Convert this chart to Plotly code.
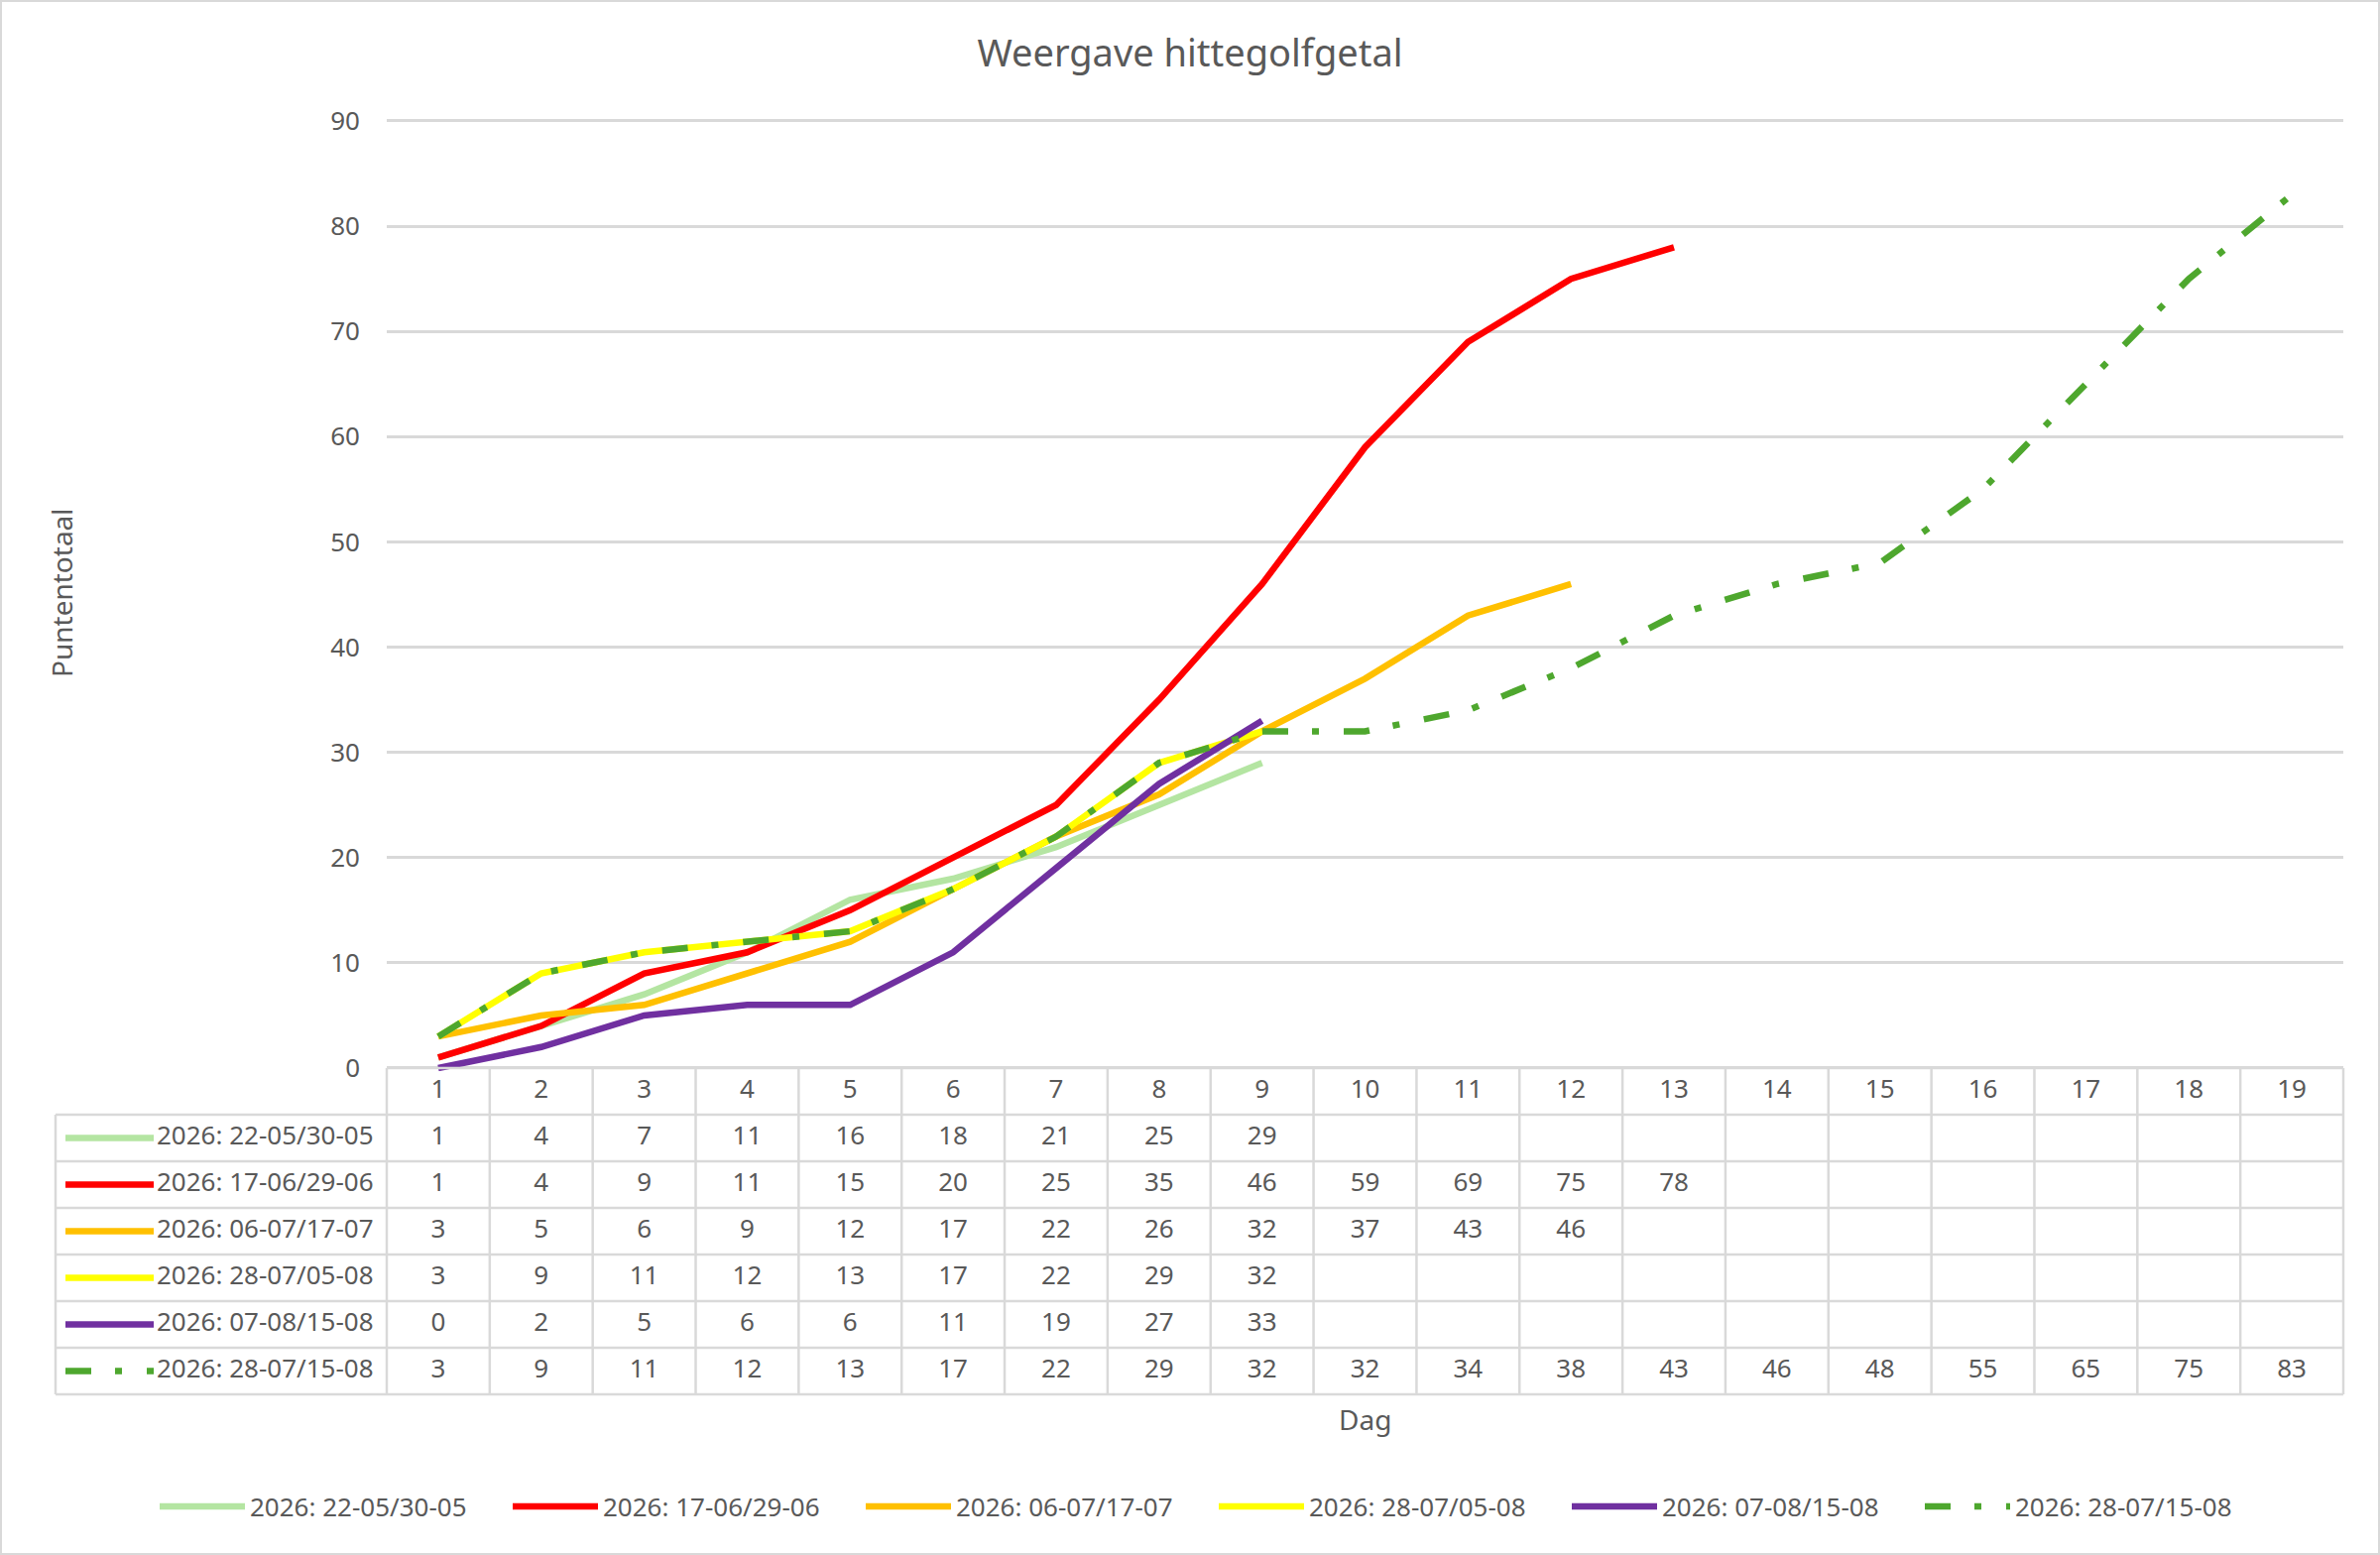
import plotly.graph_objects as go

days = list(range(1, 20))
labels = [
    "2026: 22-05/30-05",
    "2026: 17-06/29-06",
    "2026: 06-07/17-07",
    "2026: 28-07/05-08",
    "2026: 07-08/15-08",
    "2026: 28-07/15-08",
]
s_2205_3005 = [1, 4, 7, 11, 16, 18, 21, 25, 29]
s_1706_2906 = [1, 4, 9, 11, 15, 20, 25, 35, 46, 59, 69, 75, 78]
s_0607_1707 = [3, 5, 6, 9, 12, 17, 22, 26, 32, 37, 43, 46]
s_2807_0508 = [3, 9, 11, 12, 13, 17, 22, 29, 32]
s_0708_1508 = [0, 2, 5, 6, 6, 11, 19, 27, 33]
s_2807_1508 = [3, 9, 11, 12, 13, 17, 22, 29, 32, 32, 34, 38, 43, 46, 48, 55, 65, 75, 83]
series = [s_2205_3005, s_1706_2906, s_0607_1707, s_2807_0508, s_0708_1508, s_2807_1508]

colors = ["#B4E5A2", "#FF0000", "#FFC000", "#FFFF00", "#7030A0", "#4EA72E"]
dashes = ["solid", "solid", "solid", "solid", "solid", "26px,24px,7px,25px"]

FONT = "Noto Sans"
GREY = "#595959"
GRID = "#D9D9D9"
FS = 26

# layout in pixels (Excel chart area)
W, H = 2400, 1568
plot_l, plot_r, plot_t, plot_b = 390, 2363, 122, 1077
tab_l, tab_b = 56, 1406
pad = 4
col_w = (plot_r - plot_l) / len(days)
row_h = (tab_b - plot_b) / (len(series) + 1)
y_max = 90
y_pad = 0.3  # small overshoot so the 0 and 90 gridlines are drawn
y_px = (plot_b - plot_t) / y_max


def px_x(px):
    return 0.5 + (px - plot_l) / col_w


fig = go.Figure()

# the lines
for name, vals, c, d in zip(labels, series, colors, dashes):
    fig.add_trace(go.Scatter(
        x=days[:len(vals)], y=vals, mode="lines", name=name,
        line=dict(color=c, width=6.5, dash=d),
        xaxis="x", yaxis="y",
    ))

# data table underneath
fig.add_trace(go.Scatter(
    x=days, y=[0] * len(days), mode="text", text=[str(d) for d in days],
    textfont=dict(family=FONT, size=FS, color=GREY),
    xaxis="x2", yaxis="y2", showlegend=False, hoverinfo="skip",
))
for i, (name, vals, c, d) in enumerate(zip(labels, series, colors, dashes)):
    row = i + 1
    fig.add_trace(go.Scatter(
        x=days[:len(vals)], y=[row] * len(vals), mode="text",
        text=[str(v) for v in vals],
        textfont=dict(family=FONT, size=FS, color=GREY),
        xaxis="x2", yaxis="y2", showlegend=False, hoverinfo="skip",
    ))
    # legend key in the table
    fig.add_trace(go.Scatter(
        x=[px_x(66), px_x(155)], y=[row, row], mode="lines",
        line=dict(color=c, width=6.5, dash=d),
        xaxis="x2", yaxis="y2", showlegend=False, hoverinfo="skip",
    ))
    fig.add_trace(go.Scatter(
        x=[px_x(158)], y=[row], mode="text", text=[name], textposition="middle right",
        textfont=dict(family=FONT, size=FS, color=GREY),
        xaxis="x2", yaxis="y2", showlegend=False, hoverinfo="skip",
    ))

# table grid
nrow = len(series)
shapes = []
for k in range(len(days) + 1):
    shapes.append(dict(type="line", xref="x2", yref="y2", x0=k + 0.5, x1=k + 0.5,
                       y0=-0.5, y1=nrow + 0.5, line=dict(color=GRID, width=2.5)))
shapes.append(dict(type="line", xref="x2", yref="y2", x0=px_x(tab_l), x1=px_x(tab_l),
                   y0=0.5, y1=nrow + 0.5, line=dict(color=GRID, width=2.5)))
shapes.append(dict(type="line", xref="x2", yref="y2", x0=0.5, x1=len(days) + 0.5,
                   y0=-0.5, y1=-0.5, line=dict(color=GRID, width=2.5)))
for r in range(nrow + 1):
    shapes.append(dict(type="line", xref="x2", yref="y2", x0=px_x(tab_l), x1=len(days) + 0.5,
                       y0=r + 0.5, y1=r + 0.5, line=dict(color=GRID, width=2.5)))
# chart area border
shapes.append(dict(type="rect", xref="paper", yref="paper", x0=1 / W, x1=1 - 1 / W,
                   y0=1 / H, y1=1 - 1 / H, line=dict(color=GRID, width=2)))

fig.update_layout(
    width=W,
    height=H,
    margin=dict(l=0, r=0, t=0, b=0, autoexpand=False),
    paper_bgcolor="white",
    plot_bgcolor="rgba(0,0,0,0)",
    font=dict(family=FONT, size=FS, color=GREY),
    title=dict(text="Weergave hittegolfgetal", x=0.5, xanchor="center",
               y=1 - 54 / H, yanchor="middle", font=dict(size=38, color=GREY)),
    shapes=shapes,
    showlegend=True,
    legend=dict(orientation="h", x=0.51, xanchor="center", y=1 - 1519 / H, yanchor="middle",
                font=dict(size=FS, color=GREY), entrywidth=255, entrywidthmode="pixels",
                itemwidth=86, traceorder="normal"),
    annotations=[
        dict(text="Puntentotaal", xref="paper", yref="paper", x=62 / W, y=1 - 598 / H,
             xanchor="center", yanchor="middle",
             textangle=-90, showarrow=False, font=dict(size=28, color=GREY)),
        dict(text="Dag", xref="paper", yref="paper", x=(plot_l + plot_r) / 2 / W, y=1 - 1431 / H,
             xanchor="center", yanchor="middle",
             showarrow=False, font=dict(size=28, color=GREY)),
    ],
    xaxis=dict(domain=[plot_l / W, plot_r / W], range=[0.5, len(days) + 0.5],
               visible=False, anchor="y"),
    yaxis=dict(domain=[1 - (plot_b + y_pad * y_px) / H, 1 - (plot_t - y_pad * y_px) / H],
               range=[-y_pad, y_max + y_pad], tick0=0, dtick=10,
               showgrid=True, gridcolor=GRID, gridwidth=2.5, zeroline=False,
               showline=False, ticks="", ticklabelstandoff=26,
               tickfont=dict(size=FS, color=GREY), anchor="x"),
    xaxis2=dict(domain=[(tab_l - pad) / W, (plot_r + pad) / W],
                range=[px_x(tab_l - pad), px_x(plot_r + pad)], visible=False, anchor="y2"),
    yaxis2=dict(domain=[1 - (tab_b + pad) / H, 1 - (plot_b - pad) / H],
                range=[nrow + 0.5 + pad / row_h, -0.5 - pad / row_h], visible=False, anchor="x2"),
)

fig.write_html("out.html", config={"displayModeBar": False},
               post_script="document.body.style.margin = '0';")
